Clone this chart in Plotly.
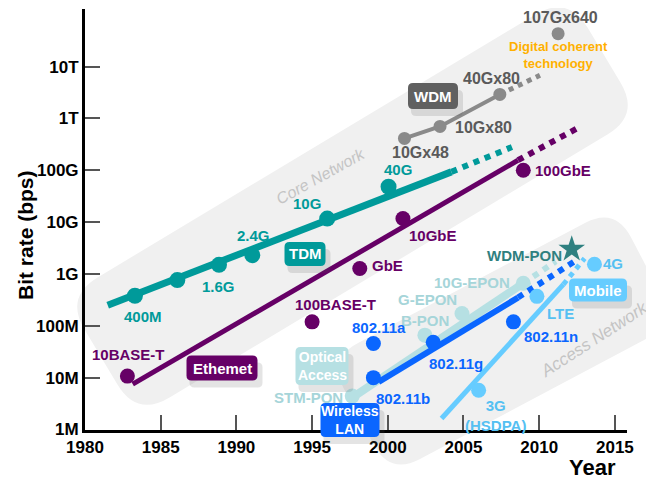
import numpy as np
import plotly.graph_objects as go

# ---------------- data ----------------
tdm_years = [1983.3, 1986.1, 1988.85, 1991.05, 1996.0, 2000.05]
tdm_bps = [3.8e8, 7.6e8, 1.5e9, 2.3e9, 1.17e10, 4.8e10]
tdm_labels = ["400M", "", "1.6G", "2.4G", "10G", "40G"]
tdm_trend_years = [1981.5, 2004.2]
tdm_trend_bps = [2.5e8, 9.3e10]
tdm_future_years = [2004.2, 2008.2]
tdm_future_bps = [9.3e10, 2.8e11]

eth_years = [1982.8, 1995.0, 1998.15, 2001.0, 2008.95]
eth_bps = [1.07e7, 1.19e8, 1.27e9, 1.17e10, 1.0e11]
eth_labels = ["10BASE-T", "100BASE-T", "GbE", "10GbE", "100GbE"]
eth_trend_years = [1983.15, 2008.6]
eth_trend_bps = [7.5e6, 1.56e11]
eth_future_years = [2008.6, 2012.5]
eth_future_bps = [1.56e11, 6.4e11]

wdm_years = [2001.1, 2003.45, 2007.4, 2011.25]
wdm_bps = [4.1e11, 7.0e11, 2.9e12, 4.3e13]
wdm_labels = ["10Gx48", "10Gx80", "40Gx80", "107Gx640"]
wdm_trend_years = [2001.1, 2003.45, 2007.4]
wdm_trend_bps = [4.1e11, 7.0e11, 2.9e12]
wdm_future_years = [2007.4, 2010.05]
wdm_future_bps = [2.9e12, 6.8e12]

opt_years = [1997.65, 2002.45, 2004.9, 2008.95]
opt_bps = [4.4e6, 6.6e7, 1.73e8, 6.6e8]
opt_labels = ["STM-PON", "B-PON", "G-EPON", "10G-EPON"]
opt_trend_years = [1997.7, 2008.95]
opt_trend_bps = [4.2e6, 6.6e8]
opt_future_years = [2008.95, 2011.1]
opt_future_bps = [6.6e8, 1.75e9]
wdmpon_years = [2012.15]
wdmpon_bps = [3.0e9]

wl_years = [1999.05, 1999.05, 2003.0, 2008.3]
wl_bps = [1.0e7, 4.55e7, 4.8e7, 1.19e8]
wl_labels = ["802.11b", "802.11a", "802.11g", "802.11n"]
wl_trend_years = [1999.4, 2008.6]
wl_trend_bps = [8.3e6, 3.5e8]
wl_future_years = [2008.6, 2012.45]
wl_future_bps = [3.5e8, 1.84e9]

mob_years = [2006.0, 2009.85, 2013.65]
mob_bps = [5.7e6, 3.7e8, 1.54e9]
mob_labels = ["3G<br>(HSDPA)", "LTE", "4G"]
mob_trend_years = [2003.55, 2011.6]
mob_trend_bps = [1.63e6, 6.3e8]
mob_future_years = [2011.6, 2013.0]
mob_future_bps = [6.3e8, 2.0e9]

x_ticks = [1980, 1985, 1990, 1995, 2000, 2005, 2010, 2015]
y_ticks = [1e6, 1e7, 1e8, 1e9, 1e10, 1e11, 1e12, 1e13]
y_ticktext = ["1M", "10M", "100M", "1G", "10G", "100G", "1T", "10T"]

# ---------------- styles ----------------
C_TDM = "#009a9a"
C_ETH = "#660066"
C_WDM = "#8a8a8a"
C_WDM_TXT = "#5a5a5a"
C_OPT = "#b6e0e3"
C_OPT_TXT = "#a6d5d9"
C_WL = "#0a66ff"
C_MOB = "#66ccff"
C_MOB_TXT = "#55c0f2"
C_STAR = "#2f8080"
FONT = "Liberation Sans"

W, H = 654, 481
OFF = 8  # page body margin
ML, MR, MT, MB = 77, 35, 1, 59
PW, PH = W - ML - MR, H - MT - MB


def pp(x, y):
    """page pixel -> paper coords"""
    fx, fy = x - OFF, y - OFF
    return (fx - ML) / PW, (H - MB - fy) / PH


def rounded_path(corners, r):
    n = len(corners)
    parts = []
    for i in range(n):
        c = np.array(corners[i], float)
        p = np.array(corners[i - 1], float)
        q = np.array(corners[(i + 1) % n], float)
        a = c + r * (p - c) / np.linalg.norm(p - c)
        b = c + r * (q - c) / np.linalg.norm(q - c)
        ax, ay = pp(*a)
        cx, cy = pp(*c)
        bx, by = pp(*b)
        parts.append(("M" if i == 0 else "L") + f"{ax:.5f},{ay:.5f} Q{cx:.5f},{cy:.5f} {bx:.5f},{by:.5f}")
    return " ".join(parts) + " Z"


def rect_corners(cx, cy, w, h):
    return [(cx - w / 2, cy - h / 2), (cx + w / 2, cy - h / 2), (cx + w / 2, cy + h / 2), (cx - w / 2, cy + h / 2)]


fig = go.Figure()


def line(xs, ys, color, width, dash="solid"):
    fig.add_trace(go.Scatter(x=xs, y=ys, mode="lines", line=dict(color=color, width=width, dash=dash),
                             hoverinfo="skip", showlegend=False))


def dots(xs, ys, color, size, symbol="circle"):
    fig.add_trace(go.Scatter(x=xs, y=ys, mode="markers", marker=dict(color=color, size=size, symbol=symbol),
                             hoverinfo="skip", showlegend=False))


# optical access
line(opt_trend_years, opt_trend_bps, C_OPT, 8)
line(opt_future_years, opt_future_bps, C_OPT, 6, "dot")
dots(opt_years, opt_bps, C_OPT, 15)
# wireless
line(wl_trend_years, wl_trend_bps, C_WL, 6)
line(wl_future_years, wl_future_bps, C_WL, 6, "dot")
dots(wl_years, wl_bps, C_WL, 15)
# mobile
line(mob_trend_years, mob_trend_bps, C_MOB, 5)
line(mob_future_years, mob_future_bps, C_MOB, 5, "dot")
dots(mob_years, mob_bps, C_MOB, 15)
dots(wdmpon_years, wdmpon_bps, C_STAR, 20, "star")
# TDM
line(tdm_trend_years, tdm_trend_bps, C_TDM, 7)
line(tdm_future_years, tdm_future_bps, C_TDM, 6, "dot")
dots(tdm_years, tdm_bps, C_TDM, 16)
# Ethernet
line(eth_trend_years, eth_trend_bps, C_ETH, 5)
line(eth_future_years, eth_future_bps, C_ETH, 6, "dot")
dots(eth_years, eth_bps, C_ETH, 15)
# WDM
line(wdm_trend_years, wdm_trend_bps, C_WDM, 4)
line(wdm_future_years, wdm_future_bps, C_WDM, 5, "dot")
dots(wdm_years, wdm_bps, C_WDM, 13)

shapes = []
annotations = []


def paper_text(x, y, text, size, color, angle=0, bold=True):
    px, py = pp(x, y)
    annotations.append(dict(x=px, y=py, xref="paper", yref="paper", text=text, showarrow=False,
                            xanchor="center", yanchor="middle", textangle=angle,
                            font=dict(family=FONT, size=size, color=color,
                                      weight="bold" if bold else "normal")))


# background bands
shapes.append(dict(type="path", xref="paper", yref="paper", layer="below", line=dict(width=0),
                   fillcolor="#f0f0f0",
                   path=rounded_path([(65, 297), (568, -5), (640, 115), (137, 417)], 38)))
shapes.append(dict(type="path", xref="paper", yref="paper", layer="below", line=dict(width=0),
                   fillcolor="#f0f0f0",
                   path=rounded_path([(328, 359), (615, 207), (676, 323), (390, 475)], 34)))

paper_text(320, 176, "<i>Core Network</i>", 16, "#c4c4c4", angle=-29, bold=False)
paper_text(594, 339, "<i>Access Network</i>", 17, "#c4c4c4", angle=-33, bold=False)


def point_labels(xs, ys, labels, offsets, color, size=15, anchors=None):
    for i, (x, y, t) in enumerate(zip(xs, ys, labels)):
        if not t:
            continue
        dx, dy = offsets[i]
        xa = anchors[i] if anchors else "center"
        annotations.append(dict(x=x, y=np.log10(y), xref="x", yref="y", text=t, showarrow=False,
                                xshift=dx, yshift=dy, xanchor=xa, yanchor="middle",
                                font=dict(family=FONT, size=size, color=color, weight="bold")))


point_labels(tdm_years, tdm_bps, tdm_labels, [(8, -21), (0, 0), (0, -22), (1, 20), (-20, 15), (9, 17)], C_TDM)
point_labels(eth_years, eth_bps, eth_labels, [(1, 22), (23, 17), (10, 3), (30, -17), (10, 0)], C_ETH,
             anchors=["center", "center", "left", "center", "left"])
point_labels(wdm_years, wdm_bps, wdm_labels, [(16, -14), (13, -1), (-8, 16), (2, 16)], C_WDM_TXT, size=16,
             anchors=["center", "left", "center", "center"])
point_labels(opt_years, opt_bps, opt_labels, [(-7, -1), (0, 15), (-34, 14), (-51, 1)], C_OPT_TXT,
             anchors=["right", "center", "center", "center"])
point_labels(wl_years, wl_bps, wl_labels, [(30, -21), (6, 16), (23, -21), (38, -15)], C_WL)
point_labels(mob_years, mob_bps, mob_labels, [(17, -25), (24, -17), (19, 1)], C_MOB_TXT)
point_labels(wdmpon_years, wdmpon_bps, ["WDM-PON"], [(-47, -6)], C_STAR)
annotations.append(dict(x=wdm_years[3], y=np.log10(wdm_bps[3]), xref="x", yref="y",
                        text="Digital coherent<br>technology", showarrow=False, yshift=-21,
                        xanchor="center", yanchor="middle",
                        font=dict(family=FONT, size=13, color="#ffb000", weight="bold")))

# boxed series labels
boxes = [
    ("TDM", 305, 254, 41, 24, C_TDM, 15),
    ("Ethemet", 222, 368, 71, 25, C_ETH, 15),
    ("WDM", 433, 96, 50, 26, "#606060", 15),
    ("Optical<br>Access", 322, 366, 53, 38, C_OPT, 14),
    ("Wireless<br>LAN", 350, 420, 59, 34, "#0a66ff", 14),
    ("Mobile", 598, 290, 58, 23, C_MOB, 15),
]
for text, cx, cy, w, h, col, fs in boxes:
    shapes.append(dict(type="path", xref="paper", yref="paper", layer="above", line=dict(width=0),
                       fillcolor="rgba(90,90,90,0.16)",
                       path=rounded_path(rect_corners(cx + 4, cy + 7, w + 2, h), 5)))
    shapes.append(dict(type="path", xref="paper", yref="paper", layer="above", line=dict(width=0),
                       fillcolor=col, path=rounded_path(rect_corners(cx, cy, w, h), 5)))
    paper_text(cx, cy, text, fs, "white")

# axis titles
paper_text(25, 235, "Bit rate (bps)", 21, "black", angle=-90)
paper_text(592, 467, "Year", 22, "black")

fig.update_layout(
    width=W, height=H,
    margin=dict(l=ML, r=MR, t=MT, b=MB),
    paper_bgcolor="white", plot_bgcolor="rgba(0,0,0,0)",
    shapes=shapes, annotations=annotations,
    xaxis=dict(range=[1980, 2015.8], tickvals=x_ticks, ticks="inside", ticklen=15, tickwidth=1.5,
               tickcolor="#555", showline=True, linecolor="black", linewidth=3, showgrid=False,
               zeroline=False, tickfont=dict(family=FONT, size=17, color="black", weight="bold")),
    yaxis=dict(type="log", range=[5.99, 14.11], tickvals=y_ticks, ticktext=y_ticktext, ticks="inside",
               ticklen=15, tickwidth=1.5, tickcolor="#555", showline=True, linecolor="black", linewidth=3,
               showgrid=False, zeroline=False,
               tickfont=dict(family=FONT, size=17, color="black", weight="bold")),
)

fig.write_html("out.html")
